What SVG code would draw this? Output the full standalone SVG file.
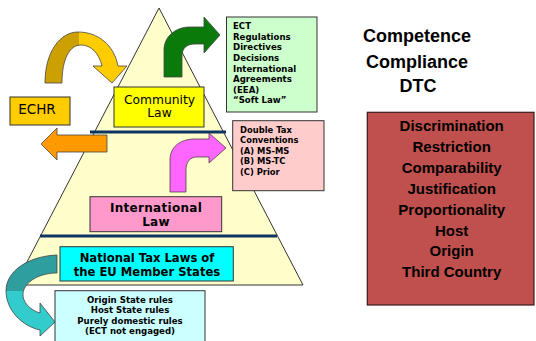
<svg xmlns="http://www.w3.org/2000/svg" width="536" height="341" viewBox="0 0 536 341">
<defs>
<style>
.box{stroke:#333;stroke-width:1}
.v{font-family:"DejaVu Sans",Verdana,sans-serif;fill:#000}
.vb{font-family:"DejaVu Sans",Verdana,sans-serif;font-weight:bold;fill:#000}
.c{font-family:"Liberation Sans",Arial,sans-serif;font-weight:bold;fill:#000;text-anchor:middle}
.arr{stroke:#444;stroke-width:0.8;stroke-linejoin:round}
.sep{stroke:#0E3463;stroke-width:3.2}
</style>
<linearGradient id="gold" gradientUnits="userSpaceOnUse" x1="45" y1="0" x2="128" y2="0">
<stop offset="0.41" stop-color="#CCA000"/>
<stop offset="0.41" stop-color="#FFCC00"/>
</linearGradient>
<linearGradient id="teal" x1="0" y1="0" x2="0" y2="1">
<stop offset="0.44" stop-color="#2E9E9E"/>
<stop offset="0.44" stop-color="#33CCCC"/>
</linearGradient>
</defs>
<rect width="536" height="341" fill="#fff"/>

<g id="pyramid">
<polygon points="159,8 303,285 15,285" fill="#FFFFCC" stroke="#333" stroke-width="1"/>
</g>
<g id="dividers">
<line class="sep" x1="90" y1="132" x2="226" y2="132"/>
<line class="sep" x1="40" y1="236" x2="277" y2="236"/>
</g>

<g id="connectors">
<path class="arr" fill="url(#gold)" d="M45,83 C45,52 60,32 78,32 C98,32 114,45 118,66 L127,66 L112,83 L93,66 L102,66 C99,53 91,45 81,45 C70,45 62,58 62,83 Z"/>
<path class="arr" fill="#0A7A0A" d="M164,77 L164,50 C164,37 175,27 190,27 L204,27 L204,17 L220,35 L204,53 L204,44 L195,44 C187,44 182,48 182,56 L182,77 Z"/>
<path class="arr" fill="#FF9900" d="M107,135 L57,135 L57,128 L41,144 L57,160 L57,152 L107,152 Z"/>
<path class="arr" fill="#FF66FF" d="M170,192 L170,160 C170,147 180,139 195,139 L209,139 L209,133 L226,148 L209,163 L209,157 L197,157 C190,157 186,162 186,170 L186,192 Z"/>
<path class="arr" fill="url(#teal)" d="M57,255 C30,256 6,270 6,291 C6,310 22,326 40,330 L40,336 L55,322 L40,303 L40,313 C30,310 22,302 23,293 C25,281 40,273 57,273 Z"/>
</g>

<g id="community-law">
<rect class="box" x="114" y="87" width="90" height="40" fill="#FFFF00"/>
<text class="v" font-size="12.3" text-anchor="middle" x="159.5" y="103.5">Community</text>
<text class="v" font-size="12.3" text-anchor="middle" x="159.5" y="116.5">Law</text>
</g>

<g id="echr">
<rect class="box" x="10" y="97" width="60" height="28" fill="#FFCC00"/>
<text class="v" font-size="13.5" text-anchor="middle" x="37" y="114">ECHR</text>
</g>

<g id="eu-sources">
<rect class="box" x="226.5" y="17" width="90.5" height="95" fill="#CCFFCC"/>
<g class="vb" font-size="8.6">
<text x="233" y="29.3">ECT</text>
<text x="233" y="39.9">Regulations</text>
<text x="233" y="50.4">Directives</text>
<text x="233" y="61">Decisions</text>
<text x="233" y="71.5">International</text>
<text x="233" y="82">Agreements</text>
<text x="233" y="92.5">(EEA)</text>
<text x="233" y="103">“Soft Law”</text>
</g>
</g>

<g id="double-tax">
<rect class="box" x="232.7" y="120.7" width="91.3" height="70" fill="#FFCCCC"/>
<g class="vb" font-size="8.4">
<text x="240" y="132.6">Double Tax</text>
<text x="240" y="143.3">Conventions</text>
<text x="240" y="154">(A) MS-MS</text>
<text x="240" y="164.3">(B) MS-TC</text>
<text x="240" y="174.6">(C) Prior</text>
</g>
</g>

<g id="international-law">
<rect class="box" x="90" y="196.7" width="131.7" height="35" fill="#FF99CC"/>
<text class="vb" font-size="12" letter-spacing="0.3" text-anchor="middle" x="156" y="212">International</text>
<text class="vb" font-size="12" letter-spacing="0.3" text-anchor="middle" x="156" y="226">Law</text>
</g>

<g id="national-tax-laws">
<rect class="box" x="60" y="246.7" width="173.3" height="34.3" fill="#00FFFF"/>
<text class="vb" font-size="11.6" text-anchor="middle" x="147" y="262">National Tax Laws of</text>
<text class="vb" font-size="11.6" text-anchor="middle" x="147" y="276">the EU Member States</text>
</g>

<g id="domestic-rules">
<rect class="box" x="55" y="290.7" width="150" height="52" fill="#CCFFFF"/>
<g class="vb" font-size="8.6" text-anchor="middle">
<text x="130" y="302.7">Origin State rules</text>
<text x="130" y="313.2">Host State rules</text>
<text x="130" y="323.6">Purely domestic rules</text>
<text x="130" y="333.6">(ECT not engaged)</text>
</g>
</g>

<g id="heading">
<text class="c" font-size="18" x="417" y="42">Competence</text>
<text class="c" font-size="18" x="417" y="68">Compliance</text>
<text class="c" font-size="18" x="418" y="91.5">DTC</text>
</g>

<g id="tests">
<rect x="367.3" y="112.3" width="166.7" height="192.7" fill="#C0504D" stroke="#3A1A1A" stroke-width="1.2"/>
<g class="c" font-size="15">
<text x="451.7" y="131">Discrimination</text>
<text x="451.7" y="152">Restriction</text>
<text x="451.7" y="173">Comparability</text>
<text x="451.7" y="194">Justification</text>
<text x="451.7" y="214.5">Proportionality</text>
<text x="451.7" y="235.5">Host</text>
<text x="451.7" y="256">Origin</text>
<text x="451.7" y="277">Third Country</text>
</g>
</g>
</svg>
